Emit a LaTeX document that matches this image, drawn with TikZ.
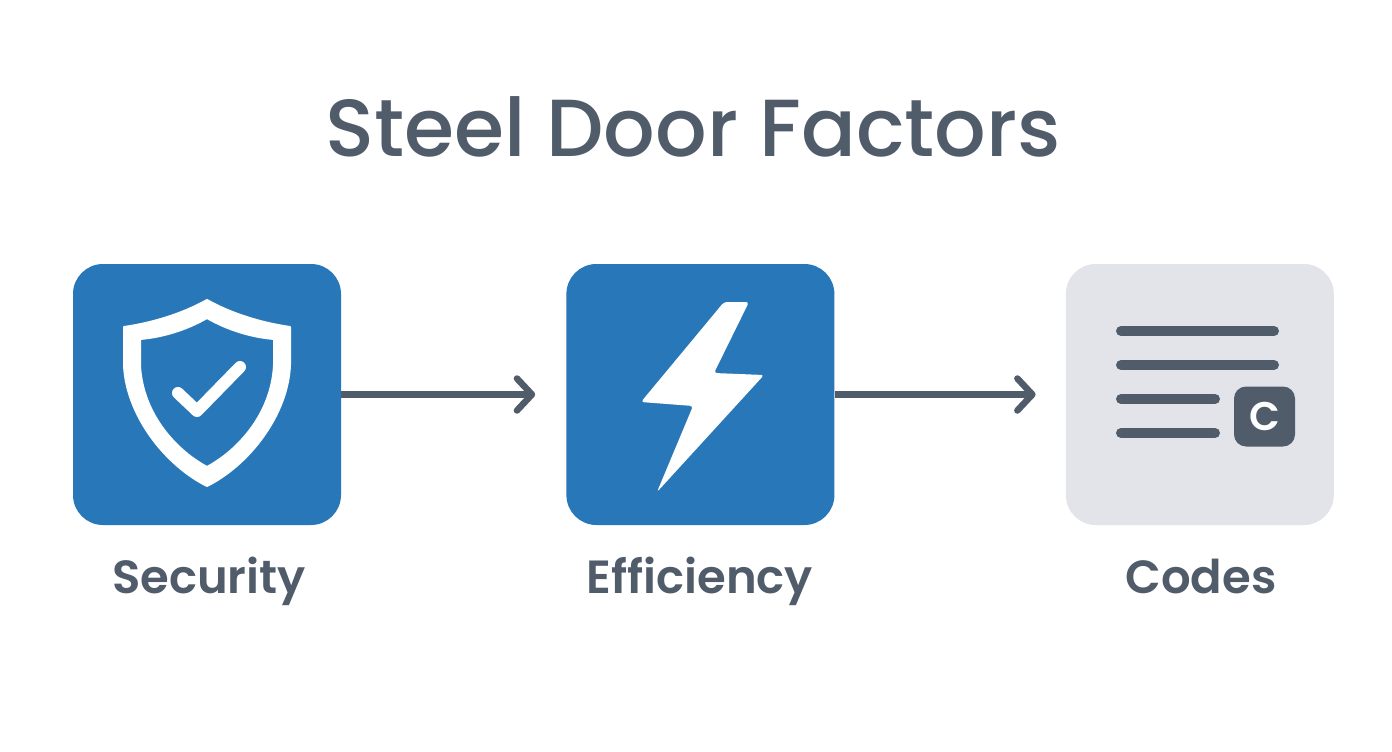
\documentclass[tikz,border=0pt]{standalone}
\usepackage{fontspec}
\setmainfont{Poppins}[UprightFont=* Medium]
\newfontfamily\heavyfont{Poppins SemiBold}
\usetikzlibrary{positioning,arrows.meta}
\definecolor{doorblue}{HTML}{2777B9}
\definecolor{doorgray}{HTML}{E2E4EA}
\definecolor{doorink}{HTML}{515C6B}
\tikzset{>={Straight Barb[length=15pt,width=32pt,line cap=round,round]}}
\tikzset{
    panel/.style={rounded corners=30pt, minimum width=268pt, minimum height=261pt, inner sep=0pt, fill=#1},
    factor/.style={font=\heavyfont\fontsize{46.5}{56}\selectfont, text=doorink, inner sep=0pt, text height=31pt, text depth=9pt},
    flow/.style={->, draw=doorink, line width=6.5pt},
    textline/.style={draw=doorink, line width=10pt, line cap=round}
}

\begin{document}
\begin{tikzpicture}[x=1pt, y=-1pt, node distance=225pt]
    \useasboundingbox[fill=white] (0,0) rectangle (1392,752);
    \node[font=\fontsize{81}{97}\selectfont, text=doorink, inner sep=0pt] (title) at (693,127) {Steel Door Factors};
    \node[panel=doorblue] (security) at (207,394.5) {};
    \node[panel=doorblue] (efficiency) [right=225pt of security] {};
    \node[panel=doorgray] (codes) [right=231pt of efficiency] {};
    \node[factor] (securitylabel) at (209,582) {Security};
    \node[factor] (efficiencylabel) at (700,582) {Efficiency};
    \node[factor] (codeslabel) at (1201,582) {Codes};
    \draw[flow, shorten >=31pt] (security) -- (efficiency);
    \draw[flow, shorten >=30pt] (efficiency) -- (codes);
    % shield
    \fill[white, even odd rule, draw=white, line width=2pt, line join=round]
        (207,300) .. controls (182,314) and (152,323) .. (124,327) -- (124,365)
        .. controls (126,415) and (165,465) .. (207,486)
        .. controls (249,465) and (288,415) .. (290,365) -- (290,327)
        .. controls (262,323) and (232,314) .. (207,300) -- cycle
        (207,318) .. controls (186,330) and (163,337) .. (140,339) -- (140,365)
        .. controls (142,410) and (172,448) .. (207,467)
        .. controls (242,448) and (272,410) .. (274,365) -- (274,339)
        .. controls (251,337) and (228,330) .. (207,318) -- cycle;
    \draw[white, line width=12pt, line cap=round, line join=round] (178,393) -- (197,411) -- (240,367);
    % bolt
    \fill[white, rounded corners=3pt]
        (724,302) -- (749,302) -- (714,373) -- (764,375) -- (657,492) -- (693,406) -- (641,402) -- cycle;
    % text lines
    \draw[textline] (1121,331) -- (1274,331);
    \draw[textline] (1121,365) -- (1274,365);
    \draw[textline] (1121,399) -- (1215,399);
    \draw[textline] (1121,433) -- (1215,433);
    \node[fill=doorink, rounded corners=12pt, minimum width=61pt, minimum height=60pt, inner sep=0pt, text=white, font=\heavyfont\fontsize{40}{48}\selectfont] (badge) at (1264.5,416.5) {C};
\end{tikzpicture}
\end{document}
